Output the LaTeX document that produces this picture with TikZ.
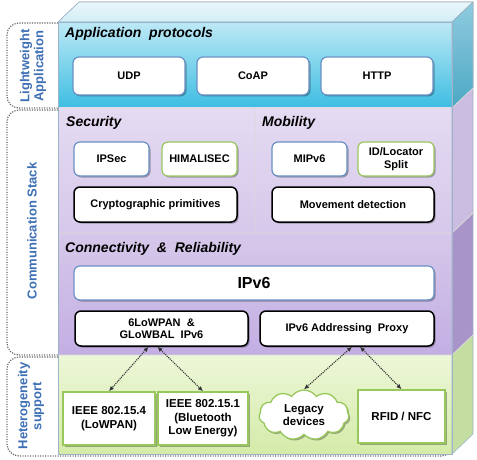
\documentclass[tikz,border=0pt]{standalone}
\usepackage{fontspec}
\setmainfont{Liberation Sans}
\usetikzlibrary{shadows,shapes.symbols,arrows.meta}
\definecolor{appT}{HTML}{BDE9F6}
\definecolor{appB}{HTML}{3DBDE2}
\definecolor{topF}{HTML}{D3EDF6}
\definecolor{appST}{HTML}{8FCBDF}
\definecolor{appSB}{HTML}{4CA8C4}
\definecolor{lavT}{HTML}{E4DBF2}
\definecolor{lavM}{HTML}{D6C8EA}
\definecolor{lavB}{HTML}{C3AEE3}
\definecolor{lavS1}{HTML}{CBBDE2}
\definecolor{lavS2}{HTML}{A994C9}
\definecolor{grnT}{HTML}{EDF7D8}
\definecolor{grnB}{HTML}{D4EBA8}
\definecolor{grnS}{HTML}{C3DEA0}
\definecolor{bluebd}{HTML}{6A91C6}
\definecolor{greenbd}{HTML}{98C85C}
\definecolor{lblblue}{HTML}{3D6FB5}
\definecolor{edge}{HTML}{9FB3C8}
\begin{document}
\begin{tikzpicture}[x=1pt,y=1pt,
  shd/.style={drop shadow={shadow xshift=1.5pt,shadow yshift=-1.5pt,opacity=0.3,fill=black}},
  rbox/.style={fill=white,rounded corners=6pt,shd,inner sep=0pt,align=center,
    font=\bfseries\fontsize{11}{13}\selectfont},
  bbox/.style={rbox,draw=bluebd,line width=1.2pt},
  gbox/.style={rbox,draw=greenbd,line width=1.2pt},
  kbox/.style={rbox,draw=black,line width=1.5pt},
  hbox/.style={fill=white,draw=greenbd,line width=1.5pt,shd,inner sep=0pt,align=center,
    font=\bfseries\fontsize{11.5}{13.5}\selectfont},
  title/.style={anchor=west,inner sep=0pt,font=\bfseries\itshape\fontsize{14}{16}\selectfont},
  lbl/.style={draw=black!60,dash pattern=on 1.2pt off 1.3pt,line width=1.2pt,rounded corners=12pt},
  lbltxt/.style={rotate=90,align=center,text=lblblue,inner sep=0pt,
    font=\bfseries\fontsize{13}{14}\selectfont},
  arr/.style={densely dotted,line width=1.1pt,black!80,{Latex[length=5pt,width=4.5pt]}-{Latex[length=5pt,width=4.5pt]}}
]
\useasboundingbox (0,0) rectangle (477,-460);
% left labels outlines
\draw[lbl] (58,-23) -- (7,-23) -- (7,-108) -- (58,-108);
\draw[lbl] (58,-110) -- (7,-110) -- (7,-355) -- (58,-355);
\draw[lbl] (58,-357) -- (7,-357) -- (7,-456) -- (453,-456) -- (453,-440);
% top face and side faces
\fill[top color=white!50!topF,bottom color=topF] (58,-22) -- (79,-2) -- (473,-2) -- (452,-22) -- cycle;
\fill[top color=appST,bottom color=appSB] (452,-22) -- (473,-2) -- (473,-88) -- (452,-108) -- cycle;
\fill[lavS1] (452,-108) -- (473,-88) -- (473,-213) -- (452,-233) -- cycle;
\fill[lavS2] (452,-233) -- (473,-213) -- (473,-335) -- (452,-355) -- cycle;
\fill[grnS] (452,-355) -- (473,-335) -- (473,-434) -- (452,-454) -- cycle;
% front faces
\fill[top color=appT,bottom color=appB] (58,-22) rectangle (452,-108);
\fill[top color=lavT,bottom color=lavM] (58,-108) rectangle (452,-233);
\fill[top color=lavM,bottom color=lavB] (58,-233) rectangle (452,-355);
\fill[top color=grnT,bottom color=grnB] (58,-355) rectangle (452,-454);
% edges
\draw[edge,line width=0.6pt] (58,-22) -- (79,-2) -- (473,-2) -- (452,-22) -- cycle
  (473,-2) -- (473,-434) -- (452,-454) (452,-22) -- (452,-454);
\draw[white!85!black,line width=0.8pt] (58,-108) -- (452,-108) (58,-233) -- (452,-233)
  (58,-355) -- (452,-355) (255,-108) -- (255,-233)
  (452,-108) -- (473,-88) (452,-233) -- (473,-213) (452,-355) -- (473,-335);
\draw[edge,line width=0.6pt] (58,-22) rectangle (452,-454);
% titles
\node[title] (tapp) at (65,-34) {Application\ \ protocols};
\node[title] (tsec) at (66,-123) {Security};
\node[title] (tmob) at (262,-123) {Mobility};
\node[title] (tcon) at (65,-249) {Connectivity \ \& \ Reliability};
% application boxes
\node[bbox,minimum width=112pt,minimum height=38pt] (udp) at (129,-76) {UDP};
\node[bbox,minimum width=112pt,minimum height=38pt] (coap) at (253,-76) {CoAP};
\node[bbox,minimum width=112pt,minimum height=38pt] (http) at (377,-76) {HTTP};
% security / mobility
\node[bbox,minimum width=75pt,minimum height=34pt] (ipsec) at (111.5,-159) {IPSec};
\node[gbox,minimum width=75pt,minimum height=34pt] (himal) at (199.5,-159) {HIMALISEC};
\node[kbox,minimum width=163pt,minimum height=35pt] (crypto) at (155.5,-204.5) {Cryptographic primitives};
\node[bbox,minimum width=75pt,minimum height=34pt] (mip) at (309.5,-159) {MIPv6};
\node[gbox,minimum width=76pt,minimum height=34pt] (idloc) at (396,-159) {ID/Locator\\Split};
\node[kbox,minimum width=162pt,minimum height=35pt] (move) at (353,-204.5) {Movement detection};
% connectivity
\node[bbox,minimum width=360pt,minimum height=34pt,font=\bfseries\fontsize{16}{18}\selectfont] (ipv6) at (254,-283) {IPv6};
\node[kbox,minimum width=173pt,minimum height=35pt,font=\bfseries\fontsize{11}{12.5}\selectfont] (lowpan) at (161.5,-328.5) {6LoWPAN \ \&\\GLoWBAL \ IPv6};
\node[kbox,minimum width=174pt,minimum height=35pt] (proxy) at (347,-328.5) {IPv6 Addressing \ Proxy};
% heterogeneity
\node[hbox,minimum width=92pt,minimum height=53pt] (ieee4) at (109,-418.5) {IEEE 802.15.4\\(LoWPAN)};
\node[hbox,minimum width=90pt,minimum height=53pt] (ieee1) at (203,-418.5) {IEEE 802.15.1\\(Bluetooth\\Low Energy)};
\node[cloud,cloud puffs=11,cloud puff arc=110,aspect=1.9,draw=greenbd,fill=white,line width=1.3pt,shd,
  inner sep=0pt,minimum width=90pt,minimum height=50pt,align=center,
  font=\bfseries\fontsize{11.5}{13.5}\selectfont] (legacy) at (304,-415) {Legacy\\devices};
\node[hbox,minimum width=87pt,minimum height=53pt] (rfid) at (401.5,-416.5) {RFID / NFC};
% arrows
\draw[arr] ([xshift=-13pt]lowpan.south) -- (ieee4.north);
\draw[arr] ([xshift=-4pt]lowpan.south) -- (ieee1.north);
\draw[arr] ([xshift=5pt]proxy.south) -- (legacy.north);
\draw[arr] ([xshift=13pt]proxy.south) -- (rfid.north);
% label texts
\node[lbltxt] (l1) at (33,-66) {Lightweight\\Application};
\node[lbltxt] (l2) at (32,-231) {Communication Stack};
\node[lbltxt] (l3) at (31,-406) {Heterogeneity\\support};
\end{tikzpicture}
\end{document}
